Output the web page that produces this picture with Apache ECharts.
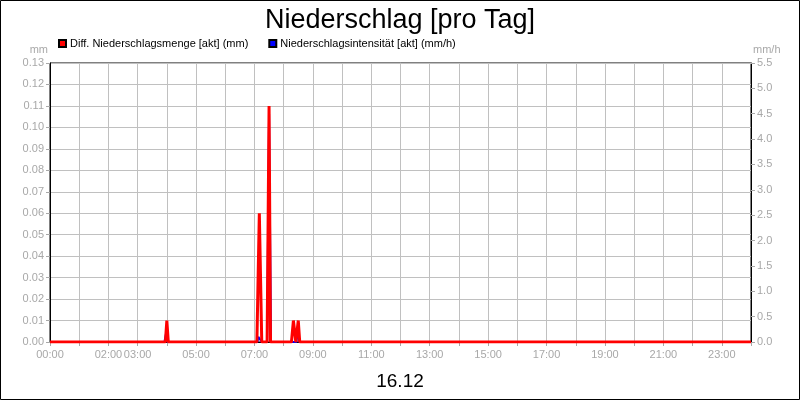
<!DOCTYPE html>
<html>
<head>
<meta charset="utf-8">
<script src="https://cdn.jsdelivr.net/npm/echarts@6/dist/echarts.min.js"></script>
<style>
html,body{margin:0;padding:0;background:#fff;}
#chart{width:800px;height:400px;}
</style>
</head>
<body>
<div id="chart"></div>
<script>
// Data (times as HH:MM)
const rainTimes  = ['00:00','03:57','04:00','04:03','07:05','07:10','07:15','07:26','07:30','07:33','08:16','08:20','08:25','08:30','08:33','24:00'];
const rainValues = [0,      0,      0.01,   0,      0,      0.06,   0,      0,      0.11,   0,      0,      0.01,   0,      0.01,   0,      0];

const intTimes  = ['00:00','03:55','03:59','04:02','07:06','07:08','07:12','07:15','07:26','07:30','07:34','08:26','08:30','08:32','24:00'];
const intValues = [0,      0,      0.2,    0,      0,      0.1,    0.1,    0,      0,      4.5,    0,      0,      0.25,   0,      0];

const xTickLabels = ['00:00','02:00','03:00','05:00','07:00','09:00','11:00','13:00','15:00','17:00','19:00','21:00','23:00'];

const seriesNames = ['Diff. Niederschlagsmenge [akt] (mm)', 'Niederschlagsintensität [akt] (mm/h)'];
const titleText = 'Niederschlag [pro Tag]';
const dateText = '16.12';

function toH(s){ const p = s.split(':'); return +p[0] + (+p[1])/60; }
function pair(times, vals){ return times.map((t,i)=>[toH(t), vals[i]]); }
function pad(n){ return (n<10?'0':'')+n; }

const chart = echarts.init(document.getElementById('chart'), null, {renderer:'canvas'});
const grey = '#a8a8a8';
const font = 'Liberation Sans, Arial, sans-serif';

chart.setOption({
  animation:false,
  backgroundColor:'#fff',
  textStyle:{fontFamily:font},
  title:[
    {text:titleText, left:'center', top:2, textStyle:{fontFamily:font, fontSize:27, fontWeight:'normal', color:'#000'}},
    {text:dateText, left:'center', top:367, textStyle:{fontFamily:font, fontSize:19, fontWeight:'normal', color:'#000'}}
  ],
  legend:{
    data:seriesNames,
    left:58, top:38, padding:0,
    itemWidth:7, itemHeight:7, itemGap:20,
    icon:'rect',
    textStyle:{fontFamily:font, fontSize:11, color:'#000', padding:[0,0,0,-1]},
    selectedMode:false
  },
  grid:{left:50, right:49, top:63, bottom:58, show:true, borderColor:'#000', borderWidth:1, backgroundColor:'transparent'},
  xAxis:{
    type:'value', min:0, max:24, interval:1,
    axisLine:{show:true, onZero:false, lineStyle:{color:'#000'}},
    axisTick:{show:true, length:4, lineStyle:{color:grey}},
    axisLabel:{
      color:grey, fontSize:11, fontFamily:font, margin:7, hideOverlap:false,
      formatter:function(v){ const s = pad(Math.round(v))+':00'; return xTickLabels.indexOf(s)>=0 ? s : ''; }
    },
    splitLine:{show:true, lineStyle:{color:'#c0c0c0', width:1}}
  },
  yAxis:[
    {
      type:'value', min:0, max:0.13, interval:0.01, position:'left',
      name:'mm', nameLocation:'end', nameGap:8,
      nameTextStyle:{color:grey, fontSize:11, fontFamily:font, align:'right', padding:[0,2,0,0]},
      axisLine:{show:true, lineStyle:{color:'#000'}},
      axisTick:{show:true, length:4, lineStyle:{color:grey}},
      axisLabel:{color:grey, fontSize:11, fontFamily:font, margin:6, formatter:v=>v.toFixed(2)},
      splitLine:{show:true, lineStyle:{color:'#c0c0c0', width:1}}
    },
    {
      type:'value', min:0, max:5.5, interval:0.5, position:'right',
      name:'mm/h', nameLocation:'end', nameGap:8,
      nameTextStyle:{color:grey, fontSize:11, fontFamily:font, align:'left', padding:[0,0,0,2]},
      axisLine:{show:true, lineStyle:{color:'#000'}},
      axisTick:{show:true, length:4, lineStyle:{color:grey}},
      axisLabel:{color:grey, fontSize:11, fontFamily:font, margin:6, formatter:v=>v.toFixed(1)},
      splitLine:{show:false}
    }
  ],
  series:[
    {
      name:seriesNames[0], type:'line', yAxisIndex:0, z:4,
      data:pair(rainTimes, rainValues),
      showSymbol:false, symbol:'none',
      lineStyle:{color:'#ff0000', width:3},
      itemStyle:{color:'#ff0000', borderColor:'#000', borderWidth:0.6}
    },
    {
      name:seriesNames[1], type:'line', yAxisIndex:1, z:3,
      data:pair(intTimes, intValues),
      showSymbol:false, symbol:'none',
      lineStyle:{color:'#0000ff', width:2},
      itemStyle:{color:'#0000ff', borderColor:'#000', borderWidth:0.6}
    }
  ],
  graphic:[
    {type:'rect', silent:true, shape:{x:0.5, y:0.5, width:799, height:399}, style:{fill:'none', stroke:'#000', lineWidth:1}}
  ]
});
</script>
</body>
</html>
